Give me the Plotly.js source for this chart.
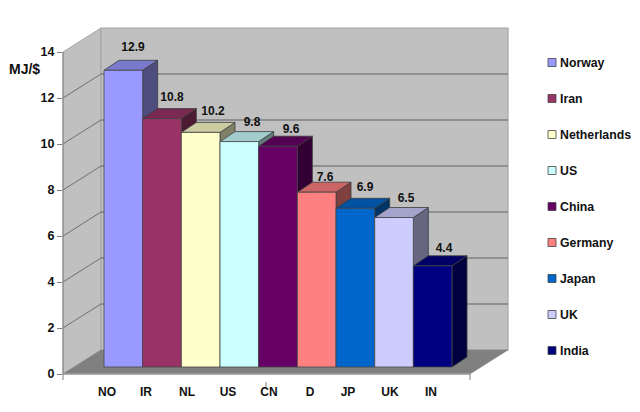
<!DOCTYPE html>
<html><head><meta charset="utf-8">
<script src="https://cdn.plot.ly/plotly-3.0.1.min.js"></script>
<style>html,body{margin:0;padding:0;background:#fff}</style></head>
<body><div id="chart" style="width:640px;height:412px"></div>
<script>
const categories = ['NO','IR','NL','US','CN','D','JP','UK','IN'];
const countries = ['Norway','Iran','Netherlands','US','China','Germany','Japan','UK','India'];
const values = [12.9,10.8,10.2,9.8,9.6,7.6,6.9,6.5,4.4];
const colors = ['#9999FF','#993366','#FFFFCC','#CCFFFF','#660066','#FF8080','#0066CC','#CCCCFF','#000080'];
const yTicks = [0,2,4,6,8,10,12,14];
const tickLabelPx = [107,146,187,228,269,310,348,390,431];
const valueLabelPx = [133,172,213,252,291,325,365,406,444];
const valueLabelLift = [12.5,11,10,8.5,6,4,10,8.5,7];

const W=640,H=412, L=63,R=520,T=20,B=380;
const unitX=38.67, unitY=23, firstBarPx=123.33, zeroPx=374;
const barShiftPx=7, depthXPx=15, depthYPx=10;
const X=px=>(px-firstBarPx)/unitX;
const PX=px=>(px-L)/(R-L), PY=py=>(B-py)/(B-T);
const yRange=[-(B-zeroPx)/unitY,(zeroPx-T)/unitY];
const yRange2=[yRange[0]-barShiftPx/unitY,yRange[1]-barShiftPx/unitY];
const dx=depthXPx/unitX, dy=depthYPx/unitY;
const shade=(hex,f)=>{const n=parseInt(hex.slice(1),16);
  return `rgb(${Math.round((n>>16&255)*f)},${Math.round((n>>8&255)*f)},${Math.round((n&255)*f)})`;};
const FONT='"Liberation Sans", Arial, sans-serif', INK='#111';
const edge={color:'#3c3c3c',width:0.8};

const traces=[];
// keeps the tick axis on screen
traces.push({type:'scatter',mode:'markers',xaxis:'x',yaxis:'y',showlegend:false,hoverinfo:'skip',
  x:[0],y:[0],marker:{opacity:0,size:1}});
// depth faces, left to right
values.forEach((v,i)=>{
  traces.push({type:'scatter',mode:'lines',xaxis:'x',yaxis:'y2',showlegend:false,hoverinfo:'skip',fill:'toself',
    fillcolor:shade(colors[i],0.5),line:edge,
    x:[i+.5,i+.5+dx,i+.5+dx,i+.5,i+.5],y:[0,dy,v+dy,v,0]});
  traces.push({type:'scatter',mode:'lines',xaxis:'x',yaxis:'y2',showlegend:false,hoverinfo:'skip',fill:'toself',
    fillcolor:shade(colors[i],0.8),line:edge,
    x:[i-.5,i+.5,i+.5+dx,i-.5+dx,i-.5],y:[v,v,v+dy,v+dy,v]});
});
// front faces
values.forEach((v,i)=>{
  traces.push({type:'bar',xaxis:'x',yaxis:'y3',x:[i],y:[v],width:[1],name:countries[i],legendgroup:countries[i],
    marker:{color:colors[i],line:{color:'#444',width:0.8}},hovertext:[categories[i]]});
});
traces.push({type:'scatter',mode:'text',xaxis:'x',yaxis:'y3',showlegend:false,hoverinfo:'skip',
  x:valueLabelPx.map(X),y:values.map((v,i)=>v+dy+valueLabelLift[i]/unitY),
  text:values.map(v=>v.toFixed(1)),textposition:'middle center',
  textfont:{family:FONT,size:12,weight:700,color:INK},cliponaxis:false});

const poly=(pts,fill,lc,lw)=>({type:'path',xref:'paper',yref:'paper',layer:'below',fillcolor:fill,
  line:{color:lc,width:lw},path:'M'+pts.map(p=>PX(p[0])+','+PY(p[1])).join('L')+'Z'});
const seg=(x0,y0,x1,y1,c,w)=>({type:'line',xref:'paper',yref:'paper',layer:'below',x0:PX(x0),y0:PY(y0),x1:PX(x1),y1:PY(y1),line:{color:c,width:w}});
const shapes=[
  poly([[63,52],[101,28],[101,350],[63,374]],'#C0C0C0','#A6A6A6',1),
  poly([[101,28],[508,28],[508,350],[101,350]],'#C0C0C0','#A6A6A6',1.2),
];
yTicks.filter(v=>v>0&&v<14).forEach(v=>{
  const yf=zeroPx-v*unitY, yb=yf-24;
  shapes.push(seg(63,yf,101,yb,'#707070',1));
  shapes.push(seg(101,yb,508,yb,'#808080',1.4));
});
shapes.push(poly([[63,374],[101,350],[508,350],[470,374]],'#808080','#808080',0.5));
shapes.push(seg(63,374,470,374,'#A0A0A0',1.5));
shapes.push(seg(63,52,63,380,'#808080',1));
shapes.push(seg(470,374,470,380,'#808080',1));
shapes.push(seg(266,382,266,388,'#808080',1));

const layout={width:W,height:H,paper_bgcolor:'#fff',plot_bgcolor:'rgba(0,0,0,0)',showlegend:true,barmode:'overlay',
  margin:{l:L,r:W-R,t:T,b:H-B,pad:0,autoexpand:false},
  font:{family:FONT,color:INK},
  xaxis:{type:'linear',range:[X(L),X(R)],tickmode:'array',tickvals:tickLabelPx.map(X),ticktext:categories,
    showgrid:false,zeroline:false,showline:false,ticks:'',ticklabelstandoff:3,
    tickfont:{family:FONT,size:12,weight:700,color:INK},fixedrange:true},
  yaxis:{range:yRange,tickmode:'array',tickvals:yTicks,ticktext:yTicks.map(String),showgrid:false,zeroline:false,showline:false,
    ticks:'outside',ticklen:5,tickcolor:'#808080',tickwidth:1,
    tickfont:{family:FONT,size:12.5,weight:700,color:INK},fixedrange:true},
  yaxis2:{overlaying:'y',range:yRange2,visible:false,fixedrange:true},
  yaxis3:{overlaying:'y',range:yRange2,visible:false,fixedrange:true},
  legend:{x:1,xanchor:'left',y:PY(48),yanchor:'top',bgcolor:'rgba(0,0,0,0)',borderwidth:0,
    font:{family:FONT,size:12.3,weight:700,color:INK},tracegroupgap:17,traceorder:'grouped'},
  annotations:[{text:'MJ/$',xref:'paper',yref:'paper',x:PX(24),y:PY(69),showarrow:false,xanchor:'center',yanchor:'middle',
    font:{family:FONT,size:14,weight:700,color:INK}}],
  shapes
};
Plotly.newPlot('chart',traces,layout,{displayModeBar:false,staticPlot:true}).then(gd=>{
  gd.querySelectorAll('.legend .legendpoints').forEach(g=>{
    g.setAttribute('transform','translate(12,0)');
    g.querySelectorAll('path').forEach(p=>p.setAttribute('d','M4,4H-4V-4H4Z'));
  });
});
</script></body></html>
